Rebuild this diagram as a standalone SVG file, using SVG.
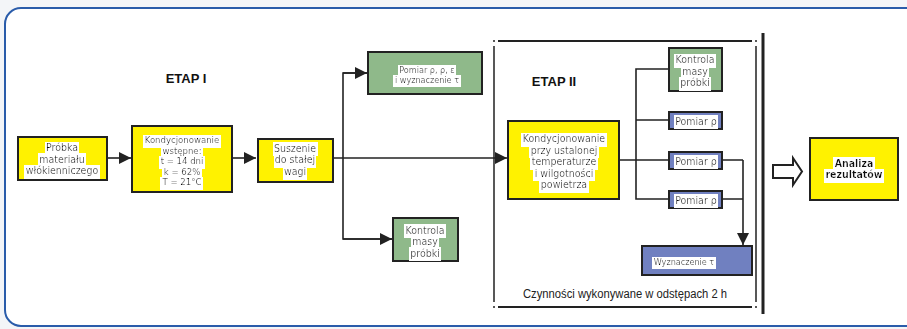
<svg xmlns="http://www.w3.org/2000/svg" width="907" height="329" viewBox="0 0 907 329">
<style>
.box{stroke:#222;stroke-width:2}
.y{fill:#fff200}
.g{fill:#8fb98a}
.b{fill:#7080c0}
.t{font-family:"Liberation Sans Narrow","DejaVu Sans Condensed","Liberation Sans",sans-serif;font-size:10.5px;fill:#111;text-anchor:middle}
.s{font-size:9px}
.k{font-size:9.5px}
.hl{filter:url(#hl)}
.ln{fill:none;stroke:#222;stroke-width:1.6}
.etap{font-family:"Liberation Sans","Arial",sans-serif;font-weight:bold;font-size:13px;fill:#111;text-anchor:middle}
</style>
<defs>
<filter id="hl" x="-0.02" y="0.1" width="1.04" height="1.1"><feFlood flood-color="#ffffff"/><feComposite in="SourceGraphic"/></filter>
<marker id="ah" viewBox="0 0 10 10" refX="10" refY="5" markerWidth="15" markerHeight="12" markerUnits="userSpaceOnUse" orient="auto"><path d="M0,0L10,5L0,10z" fill="#222"/></marker>
</defs>
<rect x="0" y="0" width="907" height="329" fill="#f3f5f8"/>
<rect x="5" y="8" width="920" height="318" rx="16" fill="#ffffff" stroke="#2a5caa" stroke-width="2"/>

<g id="connectors">
<path class="ln" d="M107,158H131" marker-end="url(#ah)"/>
<path class="ln" d="M232,158H256" marker-end="url(#ah)"/>
<path class="ln" d="M333,158H507" marker-end="url(#ah)"/>
<path class="ln" d="M367,73H343V239H392"/>
<path class="ln" d="M343,73H367" marker-end="url(#ah)"/>
<path class="ln" d="M343,239H392" marker-end="url(#ah)"/>
<path class="ln" d="M619,160H636M669,69H636V199H669M636,120H669M636,160H669"/>
<path class="ln" d="M722,160H743M722,199H743"/>
<path class="ln" d="M743,160V245" marker-end="url(#ah)"/>
<path d="M773,165H793V158L802,171.5L793,185V178H773Z" fill="#fff" stroke="#222" stroke-width="2" stroke-linejoin="miter"/>
</g>

<g id="etap2-frame" stroke="#222" fill="none">
<path d="M498,41H752M498,307H752" stroke-width="2"/>
<path d="M494,46V302M756,46V302" stroke-width="1.5"/>
<path d="M494,40v2M756,40v2M494,306v2M756,306v2" stroke-width="1.5"/>
</g>
<line x1="763" y1="33" x2="763" y2="314" stroke="#222" stroke-width="3"/>

<text class="etap" x="186" y="83">ETAP I</text>
<text class="etap" x="554" y="86">ETAP II</text>
<text x="625" y="298" font-family="Liberation Sans, Arial, sans-serif" font-size="12" fill="#222" text-anchor="middle" textLength="204" lengthAdjust="spacingAndGlyphs">Czynności wykonywane w odstępach 2 h</text>

<g id="probka">
<rect class="box y" x="18" y="137" width="89" height="43"/>
<text class="t hl" x="62" y="151">Próbka</text>
<text class="t hl" x="62" y="162.5">materiału</text>
<text class="t hl" x="62" y="174">włókienniczego</text>
</g>

<g id="kondycjonowanie1">
<rect class="box y" x="132" y="126" width="100" height="66"/>
<text class="t k hl" x="182" y="143">Kondycjonowanie</text>
<text class="t k hl" x="182" y="153.5">wstępne:</text>
<text class="t k hl" x="182" y="164">t = 14 dni</text>
<text class="t k hl" x="182" y="174.5">k = 62%</text>
<text class="t k hl" x="182" y="185">T = 21°C</text>
</g>

<g id="suszenie">
<rect class="box y" x="258" y="139" width="75" height="43"/>
<text class="t hl" x="295" y="151.5">Suszenie</text>
<text class="t hl" x="295" y="163">do stałej</text>
<text class="t hl" x="295" y="175">wagi</text>
</g>

<g id="pomiar-top">
<rect class="box g" x="368" y="52" width="114" height="42"/>
<text class="t s hl" x="427" y="72.5">Pomiar ρ, ρ, ε</text>
<text class="t s hl" x="427" y="82.5">i wyznaczenie τ</text>
</g>

<g id="kontrola1">
<rect class="box g" x="393" y="218" width="65" height="43"/>
<text class="t hl" x="425" y="233.5">Kontrola</text>
<text class="t hl" x="425" y="245">masy</text>
<text class="t hl" x="425" y="256.5">próbki</text>
</g>

<g id="kondycjonowanie2">
<rect class="box y" x="508" y="121" width="111" height="78"/>
<text class="t hl" x="564" y="142">Kondycjonowanie</text>
<text class="t hl" x="564" y="153.5">przy ustalonej</text>
<text class="t hl" x="564" y="165">temperaturze</text>
<text class="t hl" x="564" y="176.5">i wilgotności</text>
<text class="t hl" x="564" y="188">powietrza</text>
</g>

<g id="kontrola2">
<rect class="box g" x="669" y="48" width="53" height="43"/>
<text class="t hl" x="695" y="63">Kontrola</text>
<text class="t hl" x="695" y="74.5">masy</text>
<text class="t hl" x="695" y="86">próbki</text>
</g>

<g id="pomiar1">
<rect class="box b" x="669" y="112" width="53" height="17"/>
<text class="t hl" x="696" y="124.5">Pomiar ρ</text>
</g>
<g id="pomiar2">
<rect class="box b" x="669" y="152" width="53" height="17"/>
<text class="t hl" x="696" y="164.5">Pomiar ρ</text>
</g>
<g id="pomiar3">
<rect class="box b" x="669" y="191" width="53" height="17"/>
<text class="t hl" x="696" y="203.5">Pomiar ρ</text>
</g>

<g id="wyznaczenie">
<rect class="box b" x="642" y="246" width="110" height="29"/>
<text class="t s hl" x="684" y="264.5">Wyznaczenie τ</text>
</g>

<g id="analiza">
<rect class="box y" x="810" y="138" width="88" height="62"/>
<text class="t hl" x="854" y="166.5" font-weight="bold">Analiza</text>
<text class="t hl" x="854" y="178" font-weight="bold">rezultatów</text>
</g>
</svg>
